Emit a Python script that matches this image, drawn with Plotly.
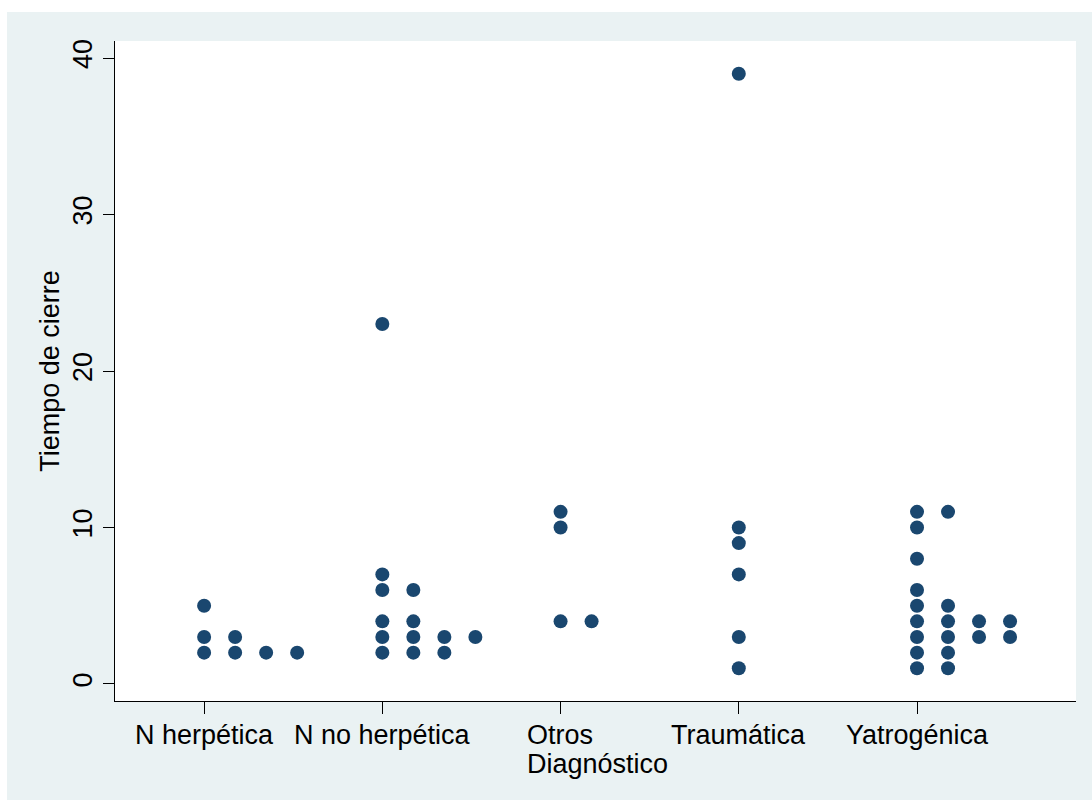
import plotly.graph_objects as go

# ---- data ----
CATEGORY_LABELS = [["N herpética"], ["N no herpética"], ["Otros", "Diagnóstico"],
                   ["Traumática"], ["Yatrogénica"]]
N_HERPETICA = [2, 2, 2, 2, 3, 3, 5]
N_NO_HERPETICA = [2, 2, 2, 3, 3, 3, 3, 4, 4, 6, 6, 7, 23]
OTROS_DIAGNOSTICO = [4, 4, 10, 11]
TRAUMATICA = [1, 3, 7, 9, 10, 39]
YATROGENICA = [1, 1, 2, 2, 3, 3, 3, 3, 4, 4, 4, 4, 5, 5, 6, 8, 10, 11, 11]
SERIES = [N_HERPETICA, N_NO_HERPETICA, OTROS_DIAGNOSTICO, TRAUMATICA, YATROGENICA]
Y_TICKS = [0, 10, 20, 30, 40]
Y_TITLE = "Tiempo de cierre"

# ---- style ----
W, H = 1092, 800
ML, MR, MT, MB = 115, 16, 41, 99
BG = "#eaf2f3"
DOT = "#1a476f"
FONT = "Liberation Sans, Arial, sans-serif"
FS = 27
DOT_STEP = 0.174

# dot-plot layout: stack equal values side by side to the right of the category position
xs, ys = [], []
for i, vals in enumerate(SERIES):
    counts = {}
    for v in vals:
        k = counts.get(v, 0)
        xs.append(i + 1 + k * DOT_STEP)
        ys.append(v)
        counts[v] = k + 1

fig = go.Figure(go.Scatter(
    x=xs, y=ys, mode="markers",
    marker=dict(size=14, color=DOT, line=dict(width=0)),
    hoverinfo="y", showlegend=False))

pw, ph = W - ML - MR, H - MT - MB
def px2x(p):
    return (p - ML) / pw
def py2y(p):
    return (H - MB - p) / ph

shapes = [
    dict(type="rect", xref="paper", yref="paper", x0=px2x(0), x1=px2x(W), y0=py2y(12), y1=py2y(0),
         fillcolor="white", line=dict(width=0), layer="below"),
    dict(type="rect", xref="paper", yref="paper", x0=px2x(0), x1=px2x(7), y0=py2y(H), y1=py2y(0),
         fillcolor="white", line=dict(width=0), layer="below"),
]

annotations = []
for i, lines in enumerate(CATEGORY_LABELS):
    multi = len(lines) > 1
    for j, line in enumerate(lines):
        annotations.append(dict(
            x=i + 1, xref="x", y=0, yref="paper", text=line, showarrow=False,
            xanchor="left" if multi else "center", xshift=-35 if multi else 0,
            yanchor="top", yshift=-18 - 29 * j, borderpad=0,
            font=dict(family=FONT, size=FS, color="black")))

fig.update_layout(
    width=W, height=H,
    margin=dict(l=ML, r=MR, t=MT, b=MB, autoexpand=False),
    paper_bgcolor=BG, plot_bgcolor="white",
    font=dict(family=FONT, size=FS, color="black"),
    shapes=shapes, annotations=annotations,
    xaxis=dict(range=[0.5, 5.892], tickvals=[1, 2, 3, 4, 5], showticklabels=False,
               ticks="outside", ticklen=12, tickcolor="black", tickwidth=1,
               showline=True, linecolor="black", linewidth=1.2,
               showgrid=False, zeroline=False, fixedrange=True),
    yaxis=dict(range=[-1.09, 41.09], tickvals=Y_TICKS, tickangle=-90,
               tickfont=dict(size=FS), ticks="outside", ticklen=11,
               tickcolor="black", tickwidth=1,
               showline=True, linecolor="black", linewidth=1.2,
               showgrid=False, zeroline=False, fixedrange=True,
               title=dict(text=Y_TITLE, font=dict(size=FS), standoff=0)),
)

fig.write_html("out.html")
